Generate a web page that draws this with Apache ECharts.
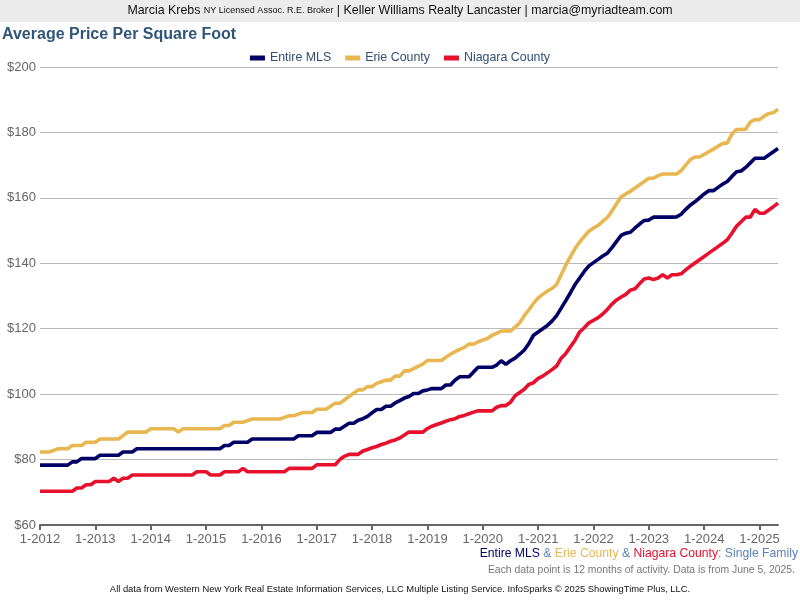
<!DOCTYPE html>
<html>
<head>
<meta charset="utf-8">
<script src="https://cdn.jsdelivr.net/npm/echarts@6/dist/echarts.min.js"></script>
<style>
  html, body { margin: 0; padding: 0; background: #fff; }
  #chart { width: 800px; height: 600px; }
</style>
</head>
<body>
<div id="chart"></div>
<script>
// 月份：2012年1月 - 2025年5月
var years = [2012, 2013, 2014, 2015, 2016, 2017, 2018, 2019, 2020, 2021, 2022, 2023, 2024, 2025];
var lastMonth = 5;

// Entire MLS
var mlsValues = [
  78.3, 78.3, 78.3, 78.3, 78.3, 78.3, 78.3, 79.3, 79.3, 80.3, 80.3, 80.3,
  80.3, 81.3, 81.3, 81.3, 81.3, 81.3, 82.3, 82.3, 82.3, 83.3, 83.3, 83.3,
  83.3, 83.3, 83.3, 83.3, 83.3, 83.3, 83.3, 83.3, 83.3, 83.3, 83.3, 83.3,
  83.3, 83.3, 83.3, 83.3, 84.3, 84.3, 85.3, 85.3, 85.3, 85.3, 86.3, 86.3,
  86.3, 86.3, 86.3, 86.3, 86.3, 86.3, 86.3, 86.3, 87.3, 87.3, 87.3, 87.3,
  88.3, 88.3, 88.3, 88.3, 89.3, 89.3, 90.2, 91.1, 91.1, 92, 92.5, 93.2,
  94.3, 95.3, 95.3, 96.3, 96.3, 97.3, 98, 98.8, 99.3, 100.2, 100.2, 101,
  101.3, 101.7, 101.7, 101.7, 102.8, 102.8, 104.3, 105.3, 105.3, 105.3, 106.8, 108.2,
  108.2, 108.2, 108.2, 108.9, 110.2, 109.1, 110.2, 111, 112.2, 113.5, 115.5, 118,
  119, 120, 121, 122.3, 124, 126.3, 128.6, 131, 133.5, 135.5, 137.5, 139.2,
  140.2, 141.2, 142.2, 143.1, 144.8, 146.7, 148.5, 149.2, 149.5, 150.8, 152, 153.1,
  153.2, 154.1, 154.1, 154.1, 154.1, 154.1, 154.2, 155, 156.5, 157.8, 158.8, 160,
  161.2, 162.2, 162.2, 163.2, 164.2, 165, 166.5, 168, 168.2, 169.3, 170.7, 172.1,
  172.1, 172.1, 173.1, 174.1, 175.1
];

// Erie County
var erieValues = [
  82.3, 82.3, 82.3, 82.8, 83.3, 83.3, 83.3, 84.3, 84.3, 84.3, 85.3, 85.3,
  85.3, 86.3, 86.3, 86.3, 86.3, 86.3, 87.3, 88.4, 88.4, 88.4, 88.4, 88.4,
  89.4, 89.4, 89.4, 89.4, 89.4, 89.4, 88.4, 89.4, 89.4, 89.4, 89.4, 89.4,
  89.4, 89.4, 89.4, 89.4, 90.4, 90.4, 91.4, 91.4, 91.4, 91.9, 92.4, 92.4,
  92.4, 92.4, 92.4, 92.4, 92.4, 92.9, 93.4, 93.4, 93.9, 94.4, 94.4, 94.4,
  95.4, 95.4, 95.4, 96.3, 97.2, 97.2, 98.2, 99.3, 100.3, 101.3, 101.3, 102.3,
  102.3, 103.3, 103.8, 104.3, 104.3, 105.5, 105.5, 107.1, 107.1, 107.8, 108.5, 109.2,
  110.3, 110.3, 110.3, 110.3, 111.3, 112.2, 113, 113.7, 114.3, 115.3, 115.3, 116,
  116.5, 117, 118, 118.6, 119.3, 119.3, 119.3, 120.5, 121.8, 124, 125.8, 127.8,
  129.4, 130.5, 131.5, 132.3, 133.5, 136.5, 139.5, 142, 144.5, 146.5, 148.2, 149.8,
  150.8, 151.6, 152.8, 154, 156, 158.2, 160.3, 161.2, 162, 163, 164, 165,
  166, 166, 166.8, 167.3, 167.3, 167.3, 167.3, 168.3, 170, 171.7, 172.5, 172.5,
  173.3, 174.1, 174.9, 175.8, 176.6, 176.8, 179.5, 180.9, 180.9, 181, 183.2, 183.9,
  183.9, 185, 185.8, 186, 187.1
];

// Niagara County
var niagaraValues = [
  70.3, 70.3, 70.3, 70.3, 70.3, 70.3, 70.3, 70.3, 71.3, 71.3, 72.3, 72.3,
  73.3, 73.3, 73.3, 73.3, 74.3, 73.3, 74.3, 74.3, 75.3, 75.3, 75.3, 75.3,
  75.3, 75.3, 75.3, 75.3, 75.3, 75.3, 75.3, 75.3, 75.3, 75.3, 76.3, 76.3,
  76.3, 75.3, 75.3, 75.3, 76.3, 76.3, 76.3, 76.3, 77.3, 76.3, 76.3, 76.3,
  76.3, 76.3, 76.3, 76.3, 76.3, 76.3, 77.3, 77.3, 77.3, 77.3, 77.3, 77.3,
  78.4, 78.4, 78.4, 78.4, 78.4, 80, 81, 81.6, 81.6, 81.6, 82.6, 83.1,
  83.6, 84, 84.6, 85, 85.6, 86, 86.6, 87.5, 88.4, 88.4, 88.4, 88.4,
  89.5, 90.2, 90.7, 91.2, 91.7, 92.2, 92.5, 93.2, 93.5, 94, 94.5, 94.9,
  94.9, 94.9, 94.9, 96, 96.5, 96.5, 97.5, 99.5, 100.5, 101.5, 103, 103.5,
  104.8, 105.5, 106.5, 107.5, 108.6, 111, 112.4, 114.5, 116.5, 119, 120.3, 121.8,
  122.6, 123.4, 124.5, 125.9, 127.5, 128.8, 129.7, 130.5, 131.8, 132.2, 133.8, 135.2,
  135.5, 135, 135.5, 136.5, 135.5, 136.5, 136.5, 136.8, 138, 139.1, 140.1, 141.1,
  142.1, 143.1, 144.1, 145.1, 146.1, 147.2, 149.2, 151.3, 152.7, 154.1, 154.1, 156.5,
  155.3, 155.3, 156.3, 157.3, 158.4
];

var yTicks = [60, 80, 100, 120, 140, 160, 180, 200];

var months = [];
years.forEach(function (y) {
  for (var m = 1; m <= 12; m++) {
    if (y === years[years.length - 1] && m > lastMonth) break;
    months.push(m + '-' + y);
  }
});

var navy = '#000066';
var gold = '#e8b752';
var red = '#e8112d';
var steel = '#5a82b5';

var myChart = echarts.init(document.getElementById('chart'));
var option = {
  animation: false,
  textStyle: { fontFamily: 'Liberation Sans, Arial, sans-serif' },
  graphic: [
    { type: 'rect', left: 0, top: 0, shape: { width: 800, height: 22 }, style: { fill: '#ececec' }, z: -1 },
    {
      type: 'text', left: 'center', top: 5,
      style: {
        text: '{a|Marcia Krebs }{b|NY Licensed Assoc. R.E. Broker}{a| | Keller Williams Realty Lancaster | marcia@myriadteam.com}',
        rich: {
          a: { fontSize: 12.4, fill: '#111', fontFamily: 'Liberation Sans' },
          b: { fontSize: 9, fill: '#111', fontFamily: 'Liberation Sans' }
        }
      }
    },
    {
      type: 'text', right: 2, top: 548,
      style: {
        text: '{n|Entire MLS}{s| & }{e|Erie County}{s| & }{r|Niagara County}{s|: Single Family}',
        rich: {
          n: { fontSize: 12.2, fill: navy, fontFamily: 'Liberation Sans' },
          e: { fontSize: 12.2, fill: gold, fontFamily: 'Liberation Sans' },
          r: { fontSize: 12.2, fill: red, fontFamily: 'Liberation Sans' },
          s: { fontSize: 12.2, fill: steel, fontFamily: 'Liberation Sans' }
        }
      }
    },
    {
      type: 'text', right: 5, top: 565,
      style: { text: 'Each data point is 12 months of activity. Data is from June 5, 2025.', fontSize: 10.4, fill: '#777', fontFamily: 'Liberation Sans' }
    },
    {
      type: 'text', left: 'center', top: 585,
      style: { text: 'All data from Western New York Real Estate Information Services, LLC Multiple Listing Service. InfoSparks \u00a9 2025 ShowingTime Plus, LLC.', fontSize: 9.4, fill: '#111', fontFamily: 'Liberation Sans' }
    }
  ],
  title: {
    text: 'Average Price Per Square Foot',
    left: 2, top: 27, padding: 0,
    textStyle: { fontSize: 16, fontWeight: 'bold', color: '#2f5579', fontFamily: 'Liberation Sans' }
  },
  legend: {
    top: 47, left: 'center',
    itemWidth: 15, itemHeight: 5, itemGap: 14,
    icon: 'rect',
    textStyle: { fontSize: 12.4, color: '#2f4f74', fontFamily: 'Liberation Sans' },
    data: ['Entire MLS', 'Erie County', 'Niagara County']
  },
  grid: { left: 40, right: 22, top: 67, bottom: 75, containLabel: false },
  xAxis: {
    type: 'category',
    data: months,
    boundaryGap: false,
    axisLine: { lineStyle: { color: '#666', width: 2 } },
    axisTick: { interval: 11, length: 5, lineStyle: { color: '#666', width: 2 } },
    axisLabel: { interval: 11, color: '#666', fontSize: 13, margin: 8 },
    splitLine: { show: false }
  },
  yAxis: {
    type: 'value',
    min: yTicks[0], max: yTicks[yTicks.length - 1], interval: 20,
    axisLine: { show: false },
    axisTick: { show: false },
    axisLabel: { color: '#666', fontSize: 13, margin: 4, formatter: '${value}' },
    splitLine: { lineStyle: { color: '#bbb', width: 1 } }
  },
  series: [
    { name: 'Entire MLS', type: 'line', data: mlsValues, showSymbol: false, lineStyle: { color: navy, width: 3.6 }, itemStyle: { color: navy }, z: 3 },
    { name: 'Erie County', type: 'line', data: erieValues, showSymbol: false, lineStyle: { color: gold, width: 3.6 }, itemStyle: { color: gold }, z: 2 },
    { name: 'Niagara County', type: 'line', data: niagaraValues, showSymbol: false, lineStyle: { color: red, width: 3.6 }, itemStyle: { color: red }, z: 2 }
  ]
};
myChart.setOption(option);
</script>
</body>
</html>
